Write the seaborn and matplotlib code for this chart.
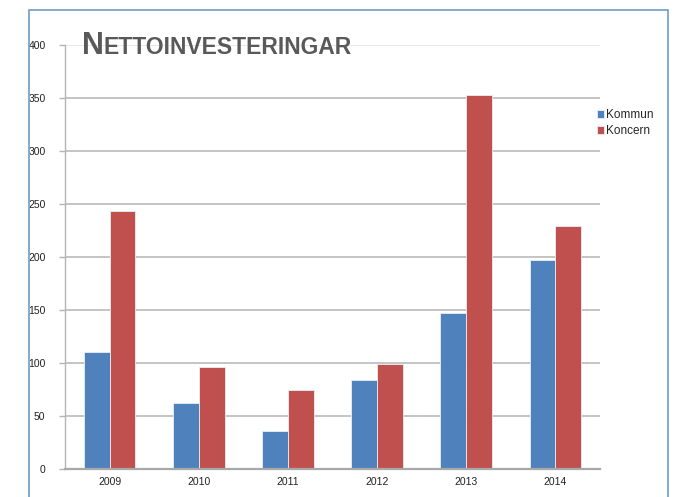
import seaborn as sns
import matplotlib.pyplot as plt
import matplotlib.patches as mpatches
import pandas as pd

# data
years = ['2009', '2010', '2011', '2012', '2013', '2014']
kommun = [110, 62, 36, 84, 147, 197]
koncern = [243, 96, 75, 99, 353, 229]
series = ['Kommun', 'Koncern']
colors = ['#4F81BD', '#C0504D']

df = pd.DataFrame({
    'year': years * 2,
    'value': kommun + koncern,
    'serie': [series[0]] * len(years) + [series[1]] * len(years),
})

sns.set_theme(style='white')
plt.rcParams['font.family'] = ['Liberation Sans', 'DejaVu Sans']

fig = plt.figure(figsize=(6.81, 4.97), dpi=100)
fig.patch.set_facecolor('white')

# blue frame around the chart (bottom runs off the picture)
frame = mpatches.Rectangle((29 / 681, -0.1), (668 - 29) / 681, 1.1 - 10 / 497,
                           transform=fig.transFigure, fill=False,
                           edgecolor='#6f9cc4', linewidth=1.2)
fig.patches.append(frame)

ax = fig.add_axes([65 / 681, 1 - 469 / 497, (600 - 65) / 681, (469 - 45) / 497])
sns.barplot(data=df, x='year', y='value', hue='serie', palette=colors,
            saturation=1, width=0.58, gap=0, edgecolor='#e8eef5',
            linewidth=0.6, ax=ax)

ax.set_ylim(0, 400)
ax.set_xlim(-0.5, 5.5)
ax.set_yticks(range(0, 401, 50))
ax.set_xlabel('')
ax.set_ylabel('')
ax.set_axisbelow(True)
ax.yaxis.grid(True, color='#b4b4b4', linewidth=1.1)
ax.yaxis.get_gridlines()[-1].set_color('#e2e2e2')
for s in ['top', 'right']:
    ax.spines[s].set_visible(False)
ax.spines['left'].set_color('#b4b4b4')
ax.spines['left'].set_linewidth(1.0)
ax.spines['bottom'].set_color('#a8a8a8')
ax.spines['bottom'].set_linewidth(1.6)
ax.tick_params(axis='y', length=4, width=1, color='#b4b4b4', labelsize=7.5,
               labelcolor='#222222', pad=10, left=True)
ax.tick_params(axis='x', length=0, labelsize=7.5, labelcolor='#222222', pad=6)

leg = ax.legend(loc='upper left', bbox_to_anchor=(0.985, 0.86), frameon=False,
                fontsize=8.5, handlelength=0.6, handleheight=0.6,
                handletextpad=0.2, labelspacing=0.35, borderaxespad=0)

# small-caps title
t1 = fig.text(82 / 681, 1 - 54 / 497, 'N', fontsize=22, fontweight='bold',
              color='#595959')
fig.canvas.draw()
bb = t1.get_window_extent()
fig.text(bb.x1 / fig.bbox.width, 1 - 54 / 497, 'ETTOINVESTERINGAR',
         fontsize=16.5, fontweight='bold', color='#595959')

fig.savefig('out.png', dpi=100)
